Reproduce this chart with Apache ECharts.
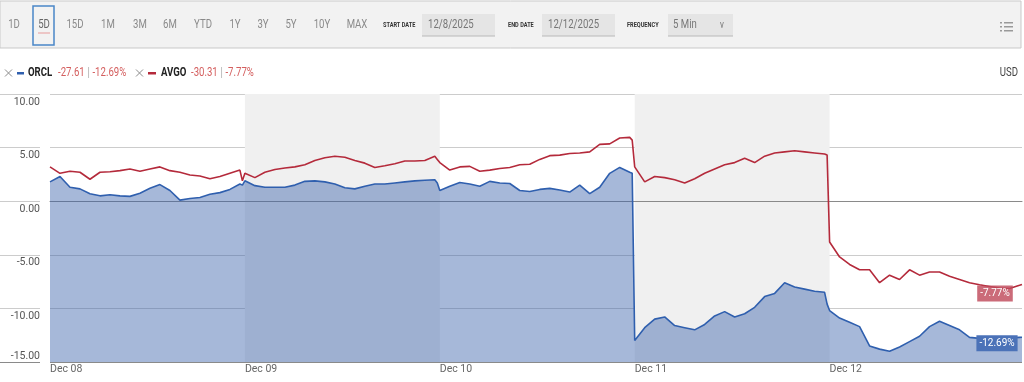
<!DOCTYPE html>
<html>
<head>
<meta charset="utf-8">
<title>ORCL vs AVGO</title>
<script src="https://cdn.jsdelivr.net/npm/echarts@6/dist/echarts.min.js"></script>
<style>
  html, body { margin: 0; padding: 0; background: #ffffff; }
  #chart { width: 1024px; height: 382px; }
</style>
</head>
<body>
<div id="chart"></div>
<script>
// day labels on the x axis
var dayLabels = ['Dec 08', 'Dec 09', 'Dec 10', 'Dec 11', 'Dec 12']
var barsPerDay = 78 // 5-minute bars in a session
// sampled bars inside each session (last one is the close)
var barsInDay = [0, 4, 8, 12, 16, 20, 24, 28, 32, 36, 40, 44, 48, 52, 56, 60, 64, 68, 72, 76, 77]

// % change since start, 21 samples per day
var orcl = [
  1.8, 2.3, 1.3, 1.15, 0.7, 0.5, 0.6, 0.5, 0.45, 0.75, 1.2, 1.55, 1.0, 0.1, 0.25, 0.35, 0.65, 0.8, 1.1, 1.6, 1.5,
  1.9, 1.45, 1.3, 1.3, 1.3, 1.5, 1.85, 1.9, 1.8, 1.6, 1.25, 1.15, 1.4, 1.6, 1.6, 1.7, 1.8, 1.9, 1.95, 2.0, 1.7,
  1.0, 1.4, 1.75, 1.6, 1.4, 1.85, 1.7, 1.65, 1.0, 0.9, 1.1, 1.2, 1.05, 0.85, 1.5, 0.7, 1.3, 2.6, 3.15, 2.7, 2.6,
  -13.0, -11.8, -11.0, -10.8, -11.6, -11.8, -12.0, -11.5, -10.7, -10.3, -10.8, -10.5, -9.9, -8.9, -8.6, -7.6, -8.0, -8.2, -8.4, -8.5, -9.6,
  -10.2, -10.9, -11.3, -11.7, -13.5, -13.8, -14.0, -13.6, -13.1, -12.6, -11.7, -11.2, -11.6, -12.0, -12.7, -12.8, -12.75, -12.7, -12.75, -12.7, -12.69
]
var avgo = [
  3.2, 2.6, 2.8, 2.7, 2.05, 2.7, 2.75, 2.85, 3.0, 2.8, 3.0, 3.2, 2.85, 2.7, 2.45, 2.35, 2.1, 2.3, 2.6, 2.9, 1.9,
  2.6, 2.2, 2.7, 2.95, 3.1, 3.2, 3.4, 3.8, 4.05, 4.2, 4.1, 3.8, 3.55, 3.15, 3.3, 3.5, 3.75, 3.75, 3.8, 4.2, 3.9,
  3.6, 2.9, 3.2, 3.25, 2.8, 2.9, 3.05, 3.15, 3.4, 3.45, 3.9, 4.25, 4.3, 4.45, 4.5, 4.6, 5.3, 5.35, 5.9, 5.95, 5.7,
  3.2, 1.8, 2.3, 2.2, 2.0, 1.7, 2.1, 2.6, 3.0, 3.4, 3.6, 4.0, 3.6, 4.2, 4.5, 4.6, 4.7, 4.6, 4.5, 4.4, 4.3,
  -3.8, -5.2, -5.9, -6.4, -6.4, -7.6, -6.9, -7.3, -6.4, -6.9, -6.6, -6.6, -7.0, -7.3, -7.6, -7.8, -7.95, -8.1, -8.15, -7.85, -7.77
]
var yTicks = { min: -15, max: 10, step: 5 }
var rangeButtons = ['1D', '5D', '15D', '1M', '3M', '6M', 'YTD', '1Y', '3Y', '5Y', '10Y', 'MAX']
var rangeX = [14, 44, 75, 108, 140, 170, 203, 235, 263, 291, 322, 357]

var FONT = "'Roboto', 'Liberation Sans', sans-serif"
var NARROW = 0.8 // squeeze header text to look like the condensed face
var BLUE = '#2f5fae'
var RED = '#b42a3b'

var bars = []
dayLabels.forEach(function (d, i) {
  barsInDay.forEach(function (b) { bars.push(i * barsPerDay + b) })
})
var lastBar = bars[bars.length - 1]
var orclData = bars.map(function (b, i) { return [b, orcl[i]] })
var avgoData = bars.map(function (b, i) { return [b, avgo[i]] })

var chart = echarts.init(document.getElementById('chart'))

function txt(x, y, text, font, fill, align) {
  return {
    type: 'text', x: x, y: y, scaleX: NARROW, z: 3,
    style: { text: text, font: font + ' ' + FONT, fill: fill, align: align || 'left', verticalAlign: 'middle' }
  }
}
// small grey cross in front of each legend entry
function cross(cx, cy) {
  return {
    type: 'group', z: 3,
    children: [
      { type: 'line', shape: { x1: cx - 3.5, y1: cy - 3.5, x2: cx + 3.5, y2: cy + 3.5 }, style: { stroke: '#8c8c8c', lineWidth: 1 } },
      { type: 'line', shape: { x1: cx - 3.5, y1: cy + 3.5, x2: cx + 3.5, y2: cy - 3.5 }, style: { stroke: '#8c8c8c', lineWidth: 1 } }
    ]
  }
}

var graphic = [
  // toolbar strip
  { type: 'rect', shape: { x: 0, y: 1, width: 1021, height: 47 }, style: { fill: '#f2f2f2', stroke: '#c9c9c9', lineWidth: 1 }, z: 1 },
  { type: 'rect', shape: { x: 33, y: 6, width: 21, height: 39 }, style: { fill: 'none', stroke: '#4a86c8', lineWidth: 1.5 }, z: 2 },
  { type: 'line', shape: { x1: 38, y1: 33, x2: 50, y2: 33 }, style: { stroke: '#e79a9a', lineWidth: 1 }, z: 2 },
  // date boxes
  { type: 'rect', shape: { x: 422, y: 14, width: 73, height: 22 }, style: { fill: '#e5e5e5' }, z: 2 },
  { type: 'line', shape: { x1: 422, y1: 36, x2: 495, y2: 36 }, style: { stroke: '#b8b8b8' }, z: 2 },
  { type: 'rect', shape: { x: 542, y: 14, width: 73, height: 22 }, style: { fill: '#e5e5e5' }, z: 2 },
  { type: 'line', shape: { x1: 542, y1: 36, x2: 615, y2: 36 }, style: { stroke: '#b8b8b8' }, z: 2 },
  { type: 'rect', shape: { x: 668, y: 14, width: 65, height: 22 }, style: { fill: '#e5e5e5' }, z: 2 },
  { type: 'line', shape: { x1: 668, y1: 36, x2: 733, y2: 36 }, style: { stroke: '#b8b8b8' }, z: 2 },
  txt(383, 25, 'START DATE', 'bold 7px', '#333'),
  txt(428, 25, '12/8/2025', '12px', '#777'),
  txt(508, 25, 'END DATE', 'bold 7px', '#333'),
  txt(548, 25, '12/12/2025', '12px', '#777'),
  txt(627, 25, 'FREQUENCY', 'bold 7px', '#333'),
  txt(673, 25, '5 Min', '12px', '#777'),
  txt(722, 25, 'v', '10px', '#777', 'center'),
  // list icon
  { type: 'rect', shape: { x: 1000, y: 22, width: 2, height: 1.5 }, style: { fill: '#9a9a9a' }, z: 3 },
  { type: 'rect', shape: { x: 1000, y: 26, width: 2, height: 1.5 }, style: { fill: '#9a9a9a' }, z: 3 },
  { type: 'rect', shape: { x: 1000, y: 30, width: 2, height: 1.5 }, style: { fill: '#9a9a9a' }, z: 3 },
  { type: 'rect', shape: { x: 1004, y: 22, width: 9, height: 1.5 }, style: { fill: '#9a9a9a' }, z: 3 },
  { type: 'rect', shape: { x: 1004, y: 26, width: 9, height: 1.5 }, style: { fill: '#9a9a9a' }, z: 3 },
  { type: 'rect', shape: { x: 1004, y: 30, width: 9, height: 1.5 }, style: { fill: '#9a9a9a' }, z: 3 },
  // legend row
  cross(8.5, 73),
  { type: 'rect', shape: { x: 17, y: 72, width: 7, height: 2.5 }, style: { fill: BLUE }, z: 3 },
  txt(28, 73, 'ORCL', 'bold 12px', '#222'),
  {
    type: 'text', x: 58, y: 73, scaleX: NARROW, z: 3,
    style: {
      text: '{v|-27.61} {s||} {v|-12.69%}', verticalAlign: 'middle',
      rich: { v: { font: '12px ' + FONT, fill: '#d45f5f' }, s: { font: '12px ' + FONT, fill: '#aaa' } }
    }
  },
  cross(139.5, 73),
  { type: 'rect', shape: { x: 148, y: 72, width: 8, height: 2.5 }, style: { fill: RED }, z: 3 },
  txt(161, 73, 'AVGO', 'bold 12px', '#222'),
  {
    type: 'text', x: 191, y: 73, scaleX: NARROW, z: 3,
    style: {
      text: '{v|-30.31} {s||} {v|-7.77%}', verticalAlign: 'middle',
      rich: { v: { font: '12px ' + FONT, fill: '#d45f5f' }, s: { font: '12px ' + FONT, fill: '#aaa' } }
    }
  },
  txt(1018, 73, 'USD', '12px', '#444', 'right')
]
rangeButtons.forEach(function (t, i) {
  graphic.push(txt(rangeX[i], 25, t, '12px', i === 1 ? '#666' : '#8a8a8a', 'center'))
})

var gridColors = ['#8a8a8a', '#cccccc', '#cccccc', '#cccccc', '#cccccc', '#cccccc']

var option = {
  animation: false,
  backgroundColor: '#ffffff',
  textStyle: { fontFamily: FONT },
  graphic: graphic,
  grid: [
    { left: 50, right: 2, top: 94, bottom: 20 },
    { left: 0, width: 40, top: 94, bottom: 20 } // gridline stubs under the y labels
  ],
  xAxis: [
    {
      type: 'value',
      min: 0,
      max: lastBar,
      interval: barsPerDay,
      axisLine: { show: true, lineStyle: { color: '#8a8a8a', width: 1 } },
      axisTick: { show: false },
      splitLine: { show: false },
      splitArea: { show: true, areaStyle: { color: ['rgba(255,255,255,0)', '#f0f0f0'] } },
      axisLabel: {
        color: '#666',
        fontSize: 10.5,
        fontFamily: FONT,
        align: 'left',
        margin: 2,
        showMaxLabel: false,
        formatter: function (v) { return dayLabels[Math.round(v / barsPerDay)] || '' }
      }
    },
    { type: 'value', gridIndex: 1, min: 0, max: 1, show: false }
  ],
  yAxis: [
    {
      type: 'value',
      min: yTicks.min,
      max: yTicks.max,
      interval: yTicks.step,
      axisLine: { show: false },
      axisTick: { show: false },
      splitLine: { show: true, lineStyle: { color: gridColors, width: 1 } },
      axisLabel: {
        margin: 10,
        formatter: function (v) {
          return v === yTicks.min ? '{lo|' + v.toFixed(2) + '}' : '{hi|' + v.toFixed(2) + '}'
        },
        rich: {
          hi: { fontSize: 10.5, color: '#555', fontFamily: FONT, padding: [16, 0, 0, 0] },
          lo: { fontSize: 10.5, color: '#555', fontFamily: FONT, padding: [0, 0, 12, 0] }
        }
      }
    },
    {
      type: 'value',
      gridIndex: 1,
      min: yTicks.min,
      max: yTicks.max,
      interval: yTicks.step,
      axisLine: { show: false },
      axisTick: { show: false },
      axisLabel: { show: false },
      splitLine: { show: true, lineStyle: { color: gridColors, width: 1 } }
    }
  ],
  series: [
    {
      name: 'ORCL',
      type: 'line',
      data: orclData,
      symbol: 'none',
      lineStyle: { color: BLUE, width: 1.6 },
      itemStyle: { color: BLUE },
      areaStyle: { color: 'rgba(57,98,170,0.45)', opacity: 1, origin: 'start' },
      markPoint: {
        symbol: 'rect',
        symbolSize: 1,
        itemStyle: { color: 'rgba(0,0,0,0)' },
        data: [{ coord: [lastBar, orcl[orcl.length - 1]], value: orcl[orcl.length - 1] }],
        label: {
          show: true,
          position: 'inside',
          offset: [-25, 6],
          formatter: function (p) { return p.value.toFixed(2) + '%' },
          color: '#ffffff',
          fontSize: 10,
          fontFamily: FONT,
          backgroundColor: '#4b72b8',
          padding: [3, 3]
        }
      }
    },
    {
      name: 'AVGO',
      type: 'line',
      data: avgoData,
      symbol: 'none',
      lineStyle: { color: RED, width: 1.6 },
      itemStyle: { color: RED },
      markPoint: {
        symbol: 'rect',
        symbolSize: 1,
        itemStyle: { color: 'rgba(0,0,0,0)' },
        data: [{ coord: [lastBar, avgo[avgo.length - 1]], value: avgo[avgo.length - 1] }],
        label: {
          show: true,
          position: 'inside',
          offset: [-27, 9],
          formatter: function (p) { return p.value.toFixed(2) + '%' },
          color: '#ffffff',
          fontSize: 10,
          fontFamily: FONT,
          backgroundColor: 'rgba(192,74,92,0.82)',
          padding: [3, 3]
        }
      }
    }
  ]
}

chart.setOption(option)
</script>
</body>
</html>
